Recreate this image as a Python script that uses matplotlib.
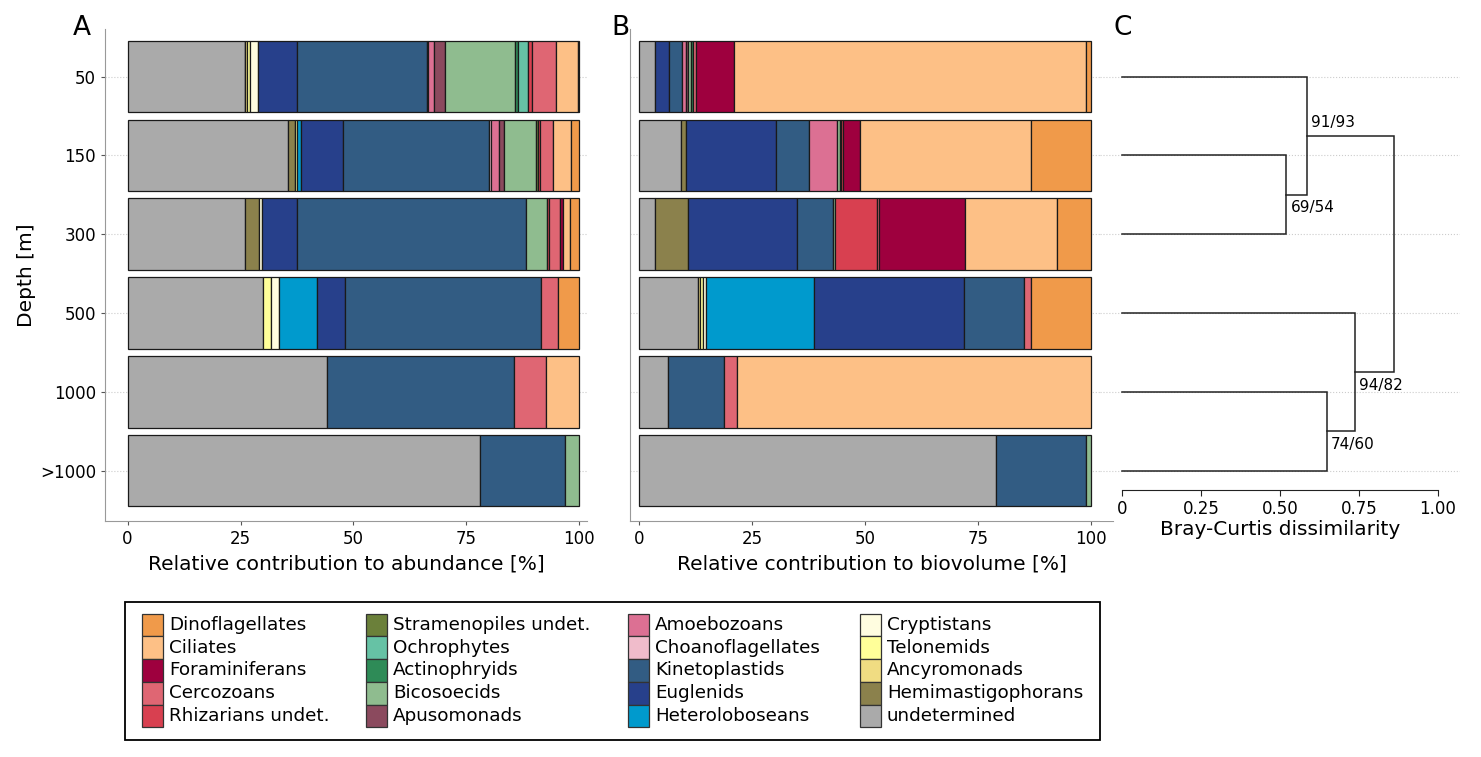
import matplotlib
matplotlib.use("Agg")
import matplotlib.pyplot as plt
from matplotlib.patches import Rectangle
import numpy as np

plt.rcParams["font.family"] = ["DejaVu Sans"]

# Depth classes (top to bottom)
depths = ["50", "150", "300", "500", "1000", ">1000"]

# Groups in legend order; bars are stacked in the reverse order
groups = [
    "Dinoflagellates", "Ciliates", "Foraminiferans", "Cercozoans", "Rhizarians undet.",
    "Stramenopiles undet.", "Ochrophytes", "Actinophryids", "Bicosoecids", "Apusomonads",
    "Amoebozoans", "Choanoflagellates", "Kinetoplastids", "Euglenids", "Heteroloboseans",
    "Cryptistans", "Telonemids", "Ancyromonads", "Hemimastigophorans", "undetermined",
]
colors = [
    "#F09A4A", "#FDC086", "#9E003E", "#DF6673", "#D84050",
    "#6B803A", "#66C2A5", "#2E8B57", "#8FBC8F", "#8B4A5E",
    "#DC7093", "#F0BCCB", "#325C83", "#27408B", "#009ACD",
    "#FFFDE0", "#FFFF99", "#F0DC82", "#8B814C", "#AAAAAA",
]

# Relative contribution to abundance [%], one row per group, columns = depths
abundance = [
    [0.4, 1.8, 2.0, 4.8, 0, 0],
    [4.7, 4.0, 1.6, 0, 7.4, 0],
    [0, 0, 0.7, 0, 0, 0],
    [5.4, 2.9, 2.4, 3.7, 7.1, 0],
    [0.9, 0.4, 0.4, 0, 0, 0],
    [0, 0.6, 0, 0, 0, 0],
    [2.1, 0, 0, 0, 0, 0],
    [0.7, 0, 0, 0, 0, 0],
    [15.6, 7.0, 4.8, 0, 0, 3.2],
    [2.3, 1.1, 0, 0, 0, 0],
    [1.4, 1.7, 0, 0, 0, 0],
    [0.2, 0.5, 0, 0, 0, 0],
    [28.9, 32.4, 50.7, 43.4, 41.3, 18.7],
    [8.6, 9.2, 7.7, 6.1, 0, 0],
    [0, 1.0, 0, 8.4, 0, 0],
    [1.8, 0, 0.7, 1.8, 0, 0],
    [0.5, 0.4, 0, 1.9, 0, 0],
    [0.4, 0, 0, 0, 0, 0],
    [0.1, 1.6, 2.9, 0, 0, 0],
    [26.0, 35.4, 26.1, 29.9, 44.2, 78.1],
]

# Relative contribution to biovolume [%]
biovolume = [
    [1.1, 13.3, 7.4, 13.3, 0, 0],
    [77.8, 37.8, 20.4, 0, 78.4, 0],
    [8.4, 3.7, 19.2, 0, 0, 0],
    [0.7, 0, 0.4, 1.5, 2.7, 0],
    [0, 0.4, 9.3, 0, 0, 0],
    [0, 0, 0, 0, 0, 0],
    [0, 0, 0, 0, 0, 0],
    [0.4, 0.3, 0, 0, 0, 0],
    [0.8, 0.6, 0.4, 0, 0, 1.1],
    [0.3, 0, 0, 0, 0, 0],
    [1.1, 6.2, 0, 0, 0, 0],
    [0, 0, 0, 0, 0, 0],
    [2.7, 7.4, 8.0, 13.3, 12.6, 19.8],
    [3.2, 20.0, 24.0, 33.2, 0, 0],
    [0, 0, 0, 23.8, 0, 0],
    [0, 0, 0, 0.7, 0, 0],
    [0, 0, 0, 0.6, 0, 0],
    [0, 0, 0, 0.5, 0, 0],
    [0, 1.0, 7.4, 0, 0, 0],
    [3.5, 9.3, 3.5, 13.1, 6.3, 79.1],
]

# Dendrogram: merges (left, right, Bray-Curtis height), leaves indexed by depth
merges = [(1, 2, 0.52), (0, 6, 0.585), (4, 5, 0.649), (3, 8, 0.737), (7, 9, 0.862)]
# Support labels per merge node and whether they sit above or below the node
support = {6: ("69/54", "below"), 7: ("91/93", "above"), 8: ("74/60", "below"), 9: ("94/82", "below")}

W, H = 1481, 757
fig = plt.figure(figsize=(W / 100, H / 100), dpi=100)


def fax(left, right, top, bottom):
    return fig.add_axes([left / W, 1 - bottom / H, (right - left) / W, (bottom - top) / H])


ylim = (5.636, -0.60)
y = np.arange(len(depths))


def stacked(ax, table, xlim):
    left = np.zeros(len(depths))
    for i in range(len(groups) - 1, -1, -1):
        vals = np.array(table[i], dtype=float)
        mask = vals > 0
        ax.barh(y[mask], vals[mask], left=left[mask], height=0.91, color=colors[i],
                edgecolor="#1a1a1a", linewidth=0.9, zorder=3)
        left += vals
    ax.set_xlim(*xlim)
    ax.set_ylim(*ylim)
    ax.set_xticks([0, 25, 50, 75, 100])
    ax.set_xticklabels(["0", "25", "50", "75", "100"])
    ax.set_yticks(y)
    ax.grid(True, axis="y", linestyle=":", color="#cccccc", linewidth=0.8, zorder=0)
    for s in ["top", "right"]:
        ax.spines[s].set_visible(False)
    for s in ["left", "bottom"]:
        ax.spines[s].set_color("#999999")
    ax.tick_params(axis="both", labelsize=12, colors="#555555", labelcolor="black", length=3)


axA = fax(105, 587, 29.3, 520.7)
stacked(axA, abundance, (-5, 101.7))
axA.set_yticklabels(depths)
axA.set_xlabel("Relative contribution to abundance [%]", fontsize=14.5, labelpad=5)
axA.set_ylabel("Depth [m]", fontsize=14.5, labelpad=3)

axB = fax(630, 1113, 29.3, 520.7)
stacked(axB, biovolume, (-2, 104.9))
axB.set_yticklabels([])
axB.tick_params(axis="y", length=0)
axB.set_xlabel("Relative contribution to biovolume [%]", fontsize=14.5, labelpad=5)

# Dendrogram panel
axC = fax(1100, 1460, 29.3, 520.7)
axC.set_xlim(-0.0707, 1.071)
axC.set_ylim(*ylim)
pos = {i: (0.0, float(i)) for i in range(len(depths))}
nid = len(depths)
for a, b, h in merges:
    xa, ya = pos[a]
    xb, yb = pos[b]
    axC.plot([xa, h, h, xb], [ya, ya, yb, yb], color="#222222", linewidth=1.1,
             solid_joinstyle="miter", zorder=3)
    pos[nid] = (h, (ya + yb) / 2)
    if nid in support:
        txt, where = support[nid]
        dy = 4 if where == "below" else -4
        axC.annotate(txt, (h, (ya + yb) / 2), xytext=(3, -dy), textcoords="offset points",
                     ha="left", va="top" if where == "below" else "bottom", fontsize=11)
    nid += 1
axC.set_yticks(y)
axC.set_yticklabels([])
axC.tick_params(axis="y", length=0)
axC.grid(True, axis="y", linestyle=":", color="#cccccc", linewidth=0.8, zorder=0)
for s in ["top", "right", "left"]:
    axC.spines[s].set_visible(False)
axC.spines["bottom"].set_position(("data", 5.245))
axC.spines["bottom"].set_bounds(0, 1)
axC.spines["bottom"].set_color("#222222")
axC.set_xticks([0, 0.25, 0.5, 0.75, 1.0])
axC.set_xticklabels(["0", "0.25", "0.50", "0.75", "1.00"])
axC.tick_params(axis="x", labelsize=12, length=4, colors="#222222", labelcolor="black")
axC.set_xlabel("Bray-Curtis dissimilarity", fontsize=14.5, labelpad=1)

# Panel letters
fig.text(82 / W, 1 - 28 / H, "A", fontsize=19, ha="center", va="center")
fig.text(620 / W, 1 - 28 / H, "B", fontsize=19, ha="center", va="center")
fig.text(1123 / W, 1 - 28 / H, "C", fontsize=19, ha="center", va="center")

# Legend, drawn in pixel coordinates on an overlay axes
lg = fig.add_axes([0, 0, 1, 1], zorder=5)
lg.set_xlim(0, W)
lg.set_ylim(H, 0)
lg.axis("off")
lg.add_patch(Rectangle((124.5, 602), 975, 138, facecolor="none", edgecolor="black", linewidth=1.3))
col_x = [142, 366, 628, 860]
row_h = 22.75
row0 = 613.6
for k, (name, c) in enumerate(zip(groups, colors)):
    col, row = divmod(k, 5)
    top = row0 + row * row_h
    lg.add_patch(Rectangle((col_x[col], top), 21, row_h, facecolor=c,
                           edgecolor="#333333", linewidth=0.9))
    lg.text(col_x[col] + 27, top + row_h / 2, name, fontsize=13.2, ha="left", va="center")

fig.savefig("out.png", dpi=100)
